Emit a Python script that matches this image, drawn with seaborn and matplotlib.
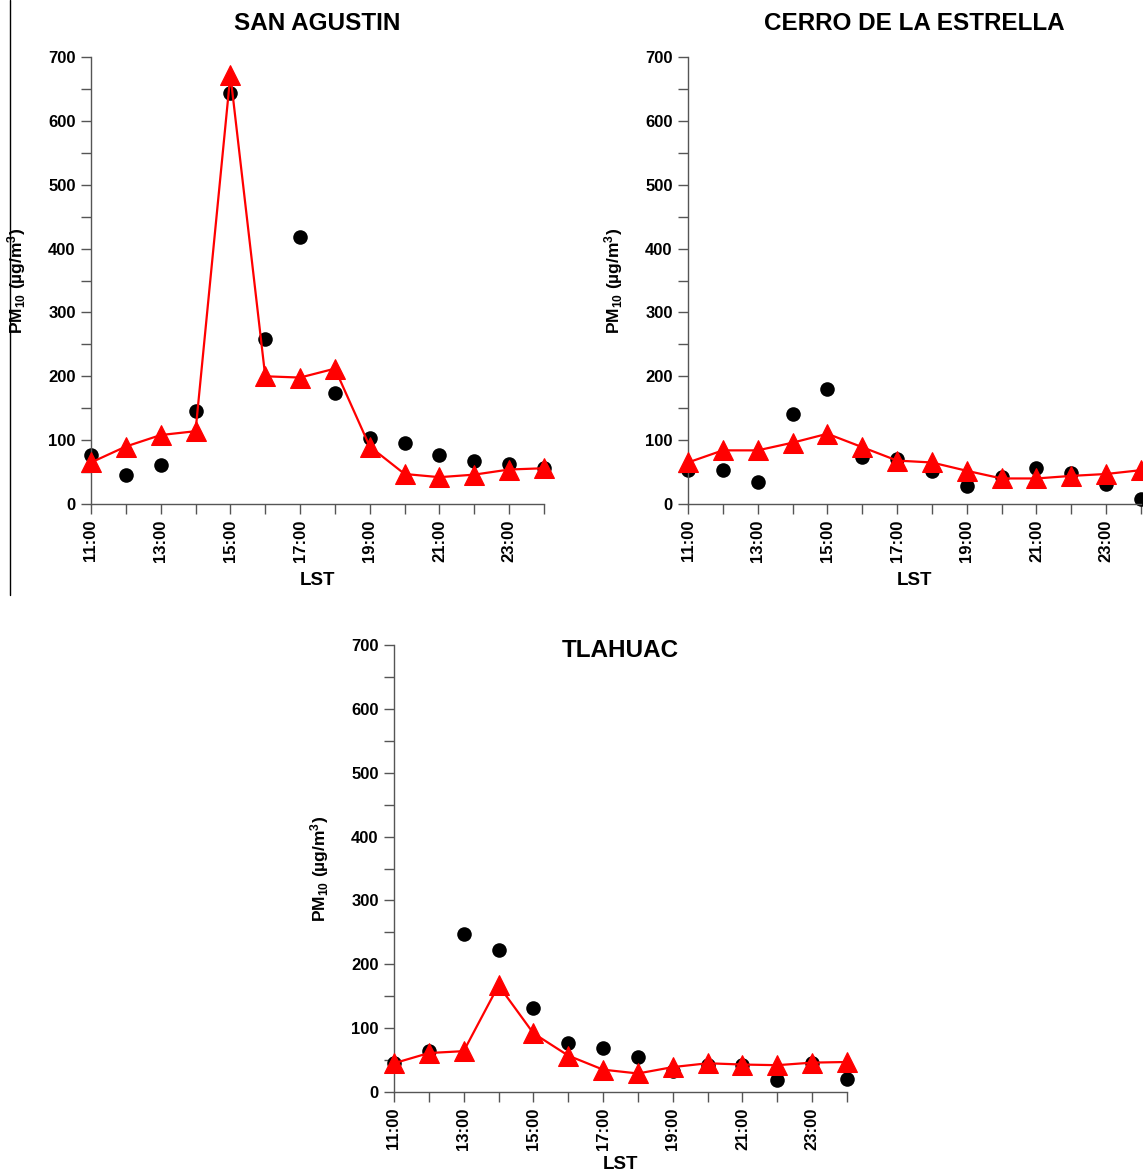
import matplotlib
matplotlib.use("Agg")
import matplotlib.pyplot as plt
import seaborn as sns
import pandas as pd
from matplotlib.ticker import MultipleLocator, FixedLocator, FixedFormatter
from matplotlib.lines import Line2D

hours = list(range(11, 25))
hour_labels = ["11:00", "", "13:00", "", "15:00", "", "17:00", "", "19:00", "", "21:00", "", "23:00", ""]

# SAN AGUSTIN
sa_obs = [77, 46, 61, 146, 643, 259, 418, 174, 104, 95, 77, 68, 62, 56]
sa_mod = [65, 90, 108, 114, 672, 200, 198, 212, 90, 47, 42, 46, 54, 56]
# CERRO DE LA ESTRELLA
ce_obs = [53, 53, 35, 141, 180, 73, 71, 52, 28, 43, 56, 48, 31, 8]
ce_mod = [65, 84, 84, 96, 110, 89, 68, 65, 52, 40, 40, 44, 47, 53]
# TLAHUAC
tl_obs = [46, 64, 248, 222, 131, 76, 69, 55, 33, 43, 43, 19, 46, 21]
tl_mod = [45, 61, 64, 167, 92, 57, 35, 29, 39, 45, 43, 42, 46, 47]

titles = ["SAN AGUSTIN", "CERRO DE LA ESTRELLA", "TLAHUAC"]

sns.set_theme(style="ticks")
plt.rcParams["font.family"] = ["Liberation Sans", "DejaVu Sans"]
plt.rcParams["mathtext.fontset"] = "custom"
plt.rcParams["mathtext.rm"] = "Liberation Sans:bold"
plt.rcParams["mathtext.bf"] = "Liberation Sans:bold"
plt.rcParams["mathtext.default"] = "bf"
plt.rcParams["text.color"] = "black"
plt.rcParams["axes.labelcolor"] = "black"
plt.rcParams["xtick.labelcolor"] = "black"
plt.rcParams["ytick.labelcolor"] = "black"

W, H = 1143, 1174
fig = plt.figure(figsize=(W / 100, H / 100), dpi=100)

def rect(left, top, w=453, h=447):
    return [left / W, 1 - (top + h) / H, w / W, h / H]

panels = [
    (rect(91, 57), sa_obs, sa_mod, titles[0], 1.074, -0.152),
    (rect(688, 57), ce_obs, ce_mod, titles[1], 1.074, -0.152),
    (rect(394, 645), tl_obs, tl_mod, titles[2], 0.987, -0.143),
]

spine_col = "#555555"
for pos, obs, mod, title, ty, xly in panels:
    ax = fig.add_axes(pos)
    df = pd.DataFrame({"hour": hours, "obs": obs, "mod": mod})
    sns.lineplot(data=df, x="hour", y="mod", ax=ax, color="#ff0000", linewidth=1.6,
                 marker="^", markersize=15, markeredgecolor="#ff0000",
                 markerfacecolor="#ff0000", clip_on=False, zorder=3)
    sns.scatterplot(data=df, x="hour", y="obs", ax=ax, color="black", s=110,
                    edgecolor="black", linewidth=0, clip_on=False, zorder=2)
    ax.set_xlim(11, 24)
    ax.set_ylim(0, 700)
    sns.despine(ax=ax)
    for s in ("left", "bottom"):
        ax.spines[s].set_color(spine_col)
        ax.spines[s].set_linewidth(1.0)
    ax.xaxis.set_major_locator(FixedLocator(hours))
    ax.xaxis.set_major_formatter(FixedFormatter(hour_labels))
    ax.yaxis.set_major_locator(MultipleLocator(100))
    ax.yaxis.set_minor_locator(MultipleLocator(50))
    ax.tick_params(axis="both", which="both", direction="out", length=7, width=1.0,
                   color=spine_col, labelsize=12, pad=4, labelcolor="black")
    ax.tick_params(axis="x", labelrotation=90)
    for lab in ax.get_xticklabels() + ax.get_yticklabels():
        lab.set_fontweight("bold")
    ax.set_xlabel("LST", fontsize=13.5, fontweight="bold", color="black")
    ax.set_ylabel("PM$_{10}$ (µg/m$^{3}$)", fontsize=12.5, fontweight="bold", color="black")
    ax.xaxis.set_label_coords(0.5, xly)
    ax.yaxis.set_label_coords(-0.138, 0.5)
    ax.text(0.5, ty, title, transform=ax.transAxes, ha="center", va="center",
            fontsize=17.5, fontweight="bold", color="black")
    ax.set_facecolor("white")

fig.add_artist(Line2D([10 / W, 10 / W], [1.0, 1 - 595 / H], color="black", linewidth=1.0,
                      transform=fig.transFigure))

fig.savefig("out.png", dpi=100, facecolor="white")
